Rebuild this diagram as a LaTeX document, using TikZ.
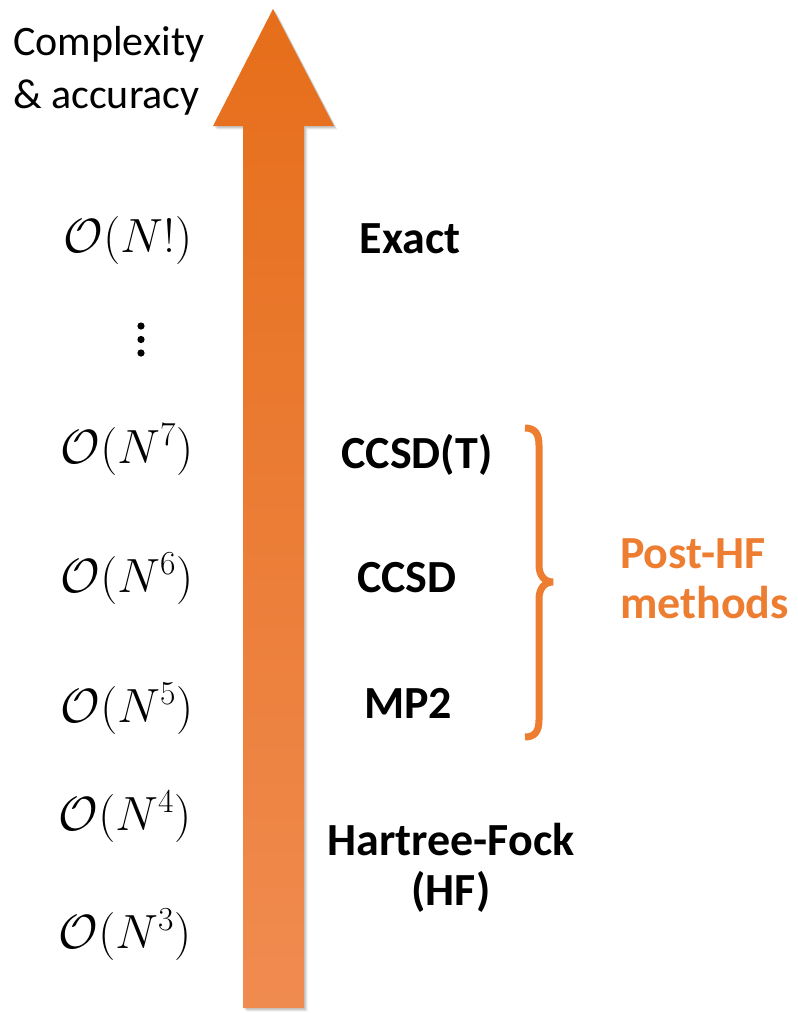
\RequirePackage{fix-cm}
\documentclass[tikz,border=0pt]{standalone}
\usepackage{fontspec}
\setmainfont{Carlito}
\definecolor{arrtop}{RGB}{230,110,26}
\definecolor{arrbot}{RGB}{240,139,80}
\definecolor{postorange}{RGB}{237,125,49}
\tikzset{
  mathlbl/.style={inner sep=0pt, anchor=base, font=\fontsize{48}{50}\selectfont},
  methodlbl/.style={inner sep=0pt, anchor=base, font=\fontsize{46}{52}\selectfont\bfseries},
  axislbl/.style={inner sep=0pt, anchor=base west, font=\fontsize{42}{53}\selectfont},
  postlbl/.style={inner sep=0pt, anchor=base west, font=\fontsize{46}{50}\selectfont\bfseries, text=postorange},
  dotmark/.style={fill=black, circle, inner sep=0pt, minimum size=7.2pt}
}
\begin{document}
\begin{tikzpicture}[x=1pt,y=-1pt]
\useasboundingbox (0,0) rectangle (798,1013);
% shadow
\foreach \s/\o in {3.5/0.06,2.5/0.08,1.5/0.1}{
  \fill[black, opacity=\o, xshift=\s pt, yshift=-\s pt]
    (273,9) -- (334,126) -- (304,126) -- (304,1008) -- (243,1008) -- (243,126) -- (213,126) -- cycle;
}
% main arrow
\shade[top color=arrtop, bottom color=arrbot]
  (273,9) -- (334,126) -- (304,126) -- (304,1008) -- (243,1008) -- (243,126) -- (213,126) -- cycle;
% axis label
\node[axislbl] (cx) at (13,55) {Complexity};
\node[axislbl] (acc) at (13,108) {\& accuracy};
% complexity labels
\node[mathlbl] (nfact) at (128,252) {$\mathcal{O}(N!)$};
\node[dotmark] (d1) at (141,326) {};
\node[dotmark] (d2) at (141,339.5) {};
\node[dotmark] (d3) at (141,353) {};
\node[mathlbl] (n7) at (127,463) {$\mathcal{O}(N^7)$};
\node[mathlbl] (n6) at (127,592) {$\mathcal{O}(N^6)$};
\node[mathlbl] (n5) at (127,722) {$\mathcal{O}(N^5)$};
\node[mathlbl] (n4) at (125,830) {$\mathcal{O}(N^4)$};
\node[mathlbl] (n3) at (125,948) {$\mathcal{O}(N^3)$};
% methods
\node[methodlbl] (exact) at (410,253) {Exact};
\node[methodlbl] (ccsdt) at (417,468) {CCSD(T)};
\node[methodlbl] (ccsd) at (407,592) {CCSD};
\node[methodlbl] (mp2) at (408,718) {MP2};
\node[methodlbl] (hf1) at (451,855) {Hartree-Fock};
\node[methodlbl] (hf2) at (451,905) {(HF)};
% brace
\draw[postorange, line width=7pt]
  (525,428) .. controls (535,428) and (539,434) .. (539,445) -- (539,565)
  .. controls (539,576) and (545,582) .. (553,582)
  .. controls (545,582) and (539,588) .. (539,599) -- (539,720)
  .. controls (539,731) and (535,737) .. (525,737);
\node[postlbl] (post) at (620,568) {Post-HF};
\node[postlbl] (meth) at (620,618) {methods};
\end{tikzpicture}
\end{document}
